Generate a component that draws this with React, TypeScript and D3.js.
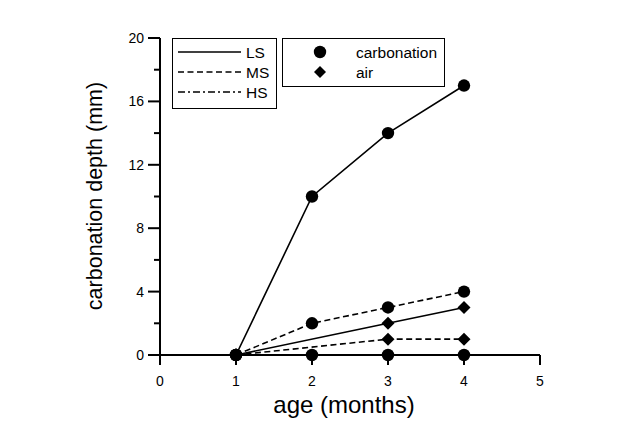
import React from "react";
import * as d3 from "d3";

const ages = [1, 2, 3, 4];
const lsCarb = [0, 10, 14, 17];
const msCarb = [0, 2, 3, 4];
const hsCarb = [0, 0, 0, 0];
const airAges = [1, 3, 4];
const lsAir = [0, 2, 3];
const msAir = [0, 1, 1];
const hsAir = [0, 0, 0];
const xTicks = [0, 1, 2, 3, 4, 5];
const yTicks = [0, 4, 8, 12, 16, 20];
const yMinor = [2, 6, 10, 14, 18];
const legendLines = ["LS", "MS", "HS"];
const legendMarkers = ["carbonation", "air"];

const dashes: Record<string, string | undefined> = {
  LS: undefined,
  MS: "6,3.5",
  HS: "7,3,2,3",
};

export default function App() {
  const W = 628, H = 431;
  const x = d3.scaleLinear().domain([0, 5]).range([160, 540]);
  const y = d3.scaleLinear().domain([0, 20]).range([355, 38]);
  const font = "Arial, 'Liberation Sans', sans-serif";
  const line = d3.line<[number, number]>().x(d => x(d[0])).y(d => y(d[1]));

  const carbSeries = [
    { name: "LS", vals: lsCarb },
    { name: "MS", vals: msCarb },
    { name: "HS", vals: hsCarb },
  ];
  const airSeries = [
    { name: "LS", vals: lsAir },
    { name: "MS", vals: msAir },
    { name: "HS", vals: hsAir },
  ];
  const diamond = (cx: number, cy: number, r = 6.5) =>
    `M${cx},${cy - r}L${cx + r},${cy}L${cx},${cy + r}L${cx - r},${cy}Z`;

  return (
    <svg width={W} height={H} style={{ position: "absolute", left: 0, top: 0, background: "#fff" }}>
      <rect width={W} height={H} fill="#fff" />
      {/* lines */}
      {carbSeries.map(s => (
        <path key={"c" + s.name} d={line(ages.map((a, i) => [a, s.vals[i]]) as [number, number][]) || ""}
          fill="none" stroke="#000" strokeWidth={1.6} strokeDasharray={dashes[s.name]} />
      ))}
      {airSeries.map(s => (
        <path key={"a" + s.name} d={line(airAges.map((a, i) => [a, s.vals[i]]) as [number, number][]) || ""}
          fill="none" stroke="#000" strokeWidth={1.6} strokeDasharray={dashes[s.name]} />
      ))}
      {/* axes */}
      <line x1={x(0)} x2={x(5)} y1={y(0)} y2={y(0)} stroke="#000" strokeWidth={2} />
      <line x1={x(0)} x2={x(0)} y1={y(20)} y2={y(0) + 10} stroke="#000" strokeWidth={2} />
      {xTicks.map(t => (
        <g key={"xt" + t}>
          <line x1={x(t)} x2={x(t)} y1={y(0)} y2={y(0) + 10} stroke="#000" strokeWidth={2} />
          <text x={x(t)} y={386} textAnchor="middle" fontFamily={font} fontSize={14}>{t}</text>
        </g>
      ))}
      {yTicks.map(t => (
        <g key={"yt" + t}>
          <line x1={x(0) - 12} x2={x(0)} y1={y(t)} y2={y(t)} stroke="#000" strokeWidth={2} />
          <text x={x(0) - 16} y={y(t) + 5} textAnchor="end" fontFamily={font} fontSize={14}>{t}</text>
        </g>
      ))}
      {yMinor.map(t => (
        <line key={"ym" + t} x1={x(0) - 6} x2={x(0)} y1={y(t)} y2={y(t)} stroke="#000" strokeWidth={2} />
      ))}
      {/* markers */}
      {carbSeries.map(s => s.vals.map((v, i) => (
        <circle key={"cm" + s.name + i} cx={x(ages[i])} cy={y(v)} r={6.2} fill="#000" />
      )))}
      {airSeries.slice(0, 2).map(s => s.vals.map((v, i) => (
        <path key={"am" + s.name + i} d={diamond(x(airAges[i]), y(v))} fill="#000" />
      )))}
      {/* axis labels */}
      <text x={344} y={413} textAnchor="middle" fontFamily={font} fontSize={24}>age (months)</text>
      <text transform="translate(102,196) rotate(-90)" textAnchor="middle" fontFamily={font} fontSize={21.5}>
        carbonation depth (mm)
      </text>
      {/* legend 1 */}
      <rect x={172.5} y={38.5} width={104} height={70} fill="#fff" stroke="#000" strokeWidth={1} />
      {legendLines.map((n, i) => (
        <g key={"ll" + n}>
          <line x1={178} x2={241} y1={52 + i * 20} y2={52 + i * 20} stroke="#000" strokeWidth={1.6} strokeDasharray={dashes[n]} />
          <text x={246} y={57.5 + i * 20} fontFamily={font} fontSize={15.5}>{n}</text>
        </g>
      ))}
      {/* legend 2 */}
      <rect x={282.5} y={38.5} width={162} height={48} fill="#fff" stroke="#000" strokeWidth={1} />
      {legendMarkers.map((n, i) => (
        <g key={"lm" + n}>
          {i === 0
            ? <circle cx={320} cy={52} r={6.2} fill="#000" />
            : <path d={diamond(320, 72, 6)} fill="#000" />}
          <text x={356} y={57.5 + i * 20} fontFamily={font} fontSize={15.5}>{n}</text>
        </g>
      ))}
    </svg>
  );
}
